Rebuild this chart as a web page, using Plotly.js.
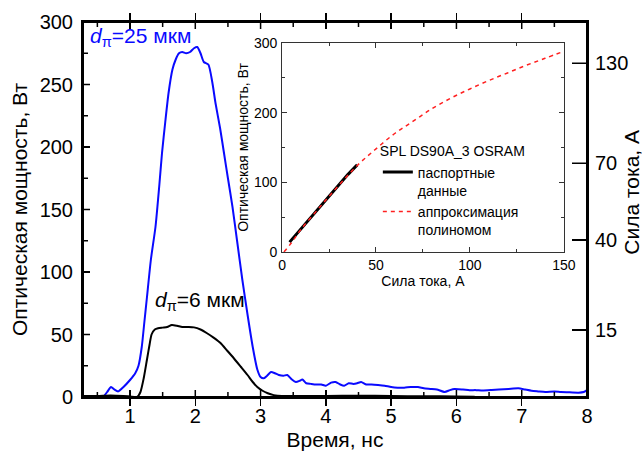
<!DOCTYPE html>
<html>
<head>
<meta charset="utf-8">
<script src="https://cdn.plot.ly/plotly-3.0.1.min.js"></script>
<style>html,body{margin:0;padding:0;background:#fff;}#chart{width:642px;height:455px;}</style>
</head>
<body>
<div id="chart"></div>
<script>
// Main chart: optical power vs time
const timeBlue = [0.59,0.65,0.71,0.76,0.82,0.9,1.0,1.08,1.13,1.18,1.22,1.26,1.32,1.39,1.45,1.49,1.54,1.59,1.65,1.70,1.75,1.80,1.86,1.92,1.98,2.03,2.08,2.13,2.20,2.26,2.31,2.38,2.44,2.50,2.57,2.64,2.72,2.80,2.88,2.95,3.00,3.05,3.10,3.16,3.22,3.28,3.35,3.41,3.48,3.54,3.60,3.64,3.70,3.77,3.85,3.93,4.00,4.08,4.15,4.22,4.28,4.35,4.42,4.48,4.54,4.62,4.70,4.80,4.90,5.0,5.1,5.2,5.3,5.41,5.5,5.6,5.7,5.82,5.9,5.97,6.1,6.2,6.3,6.4,6.54,6.65,6.8,6.95,7.05,7.15,7.25,7.36,7.5,7.6,7.7,7.87,7.95,8.0];
const powerBlue = [0,4,8,6,4.5,8,13.6,19,25,40,60,80,110,136,170,195,220,243,262,270,275,276,275,276,279,280,275,268,266,252,235,215,195,175,152,125,94,66,40,22,16,15,17,20,19,17.6,17,17.6,14,12,13,14,11,10.5,10,10,9,11.5,12,10,9,11,10.5,11,12,10,10,9.6,9,8,7.5,7.5,8,8,7,6.5,6,4,5.5,6.4,6,5.5,5.5,5.2,5.6,6,6.5,7,6,5,4.5,4,4.5,4,3.8,3.5,4,5.6];
const timeBlack = [0.28,0.5,0.7,0.9,1.0,1.11,1.16,1.21,1.26,1.30,1.33,1.38,1.43,1.50,1.57,1.64,1.72,1.80,1.90,1.98,2.08,2.18,2.28,2.39,2.49,2.59,2.70,2.80,2.88,2.95,3.03,3.11,3.20,3.26,3.5,4.0,4.5,5.0,5.5,6.0,6.28];
const powerBlack = [0.8,0.8,1.2,0.8,0.4,0,4,15,30,42,50,54,55,55.5,56,57.6,57,56,56,55.7,54,51,47.5,43,37,31,24,17.6,12,8,5,3,1.5,1,0.8,0.8,1,0.8,0.6,0.5,0.3];

// Right axis: current values placed at the corresponding power level
const currentTickText = ['15','40','70','130'];
const currentTickPower = [53.6,125.6,187,267];

// Inset: power vs current
const insetCurrentData = [4,10,15,20,25,30,35,40];
const insetPowerData = [14,33,49,65,81,96,111,125];
const insetCurrentFit = [1,5,10,20,30,40,50,60,70,80,90,100,110,120,130,140,150];
const insetPowerFit = [0,13,32,64,95,124,148,170,188,206,221,234,246,257,268,278,288];

const labelBlue = '<i>d</i><sub>π</sub>=25 мкм';
const labelBlack = '<i>d</i><sub>π</sub>=6 мкм';
const nameData = 'паспортные<br>данные';
const nameFit = 'аппроксимация<br>полиномом';
const legendTitle = 'SPL DS90A_3 OSRAM';

const FONT = 'Liberation Sans';

// axis ranges and plot-area size (used to build the frame and tick marks of the main panel)
const xRange = [0.28, 8], yRange = [0, 300];
const W = 642, H = 455, M = {l:83, r:55, t:22, b:58};
const xPerPx = (xRange[1]-xRange[0]) / (W - M.l - M.r);
const yPerPx = (yRange[1]-yRange[0]) / (H - M.t - M.b);

const tickX = [], tickY = [];
function seg(x0,y0,x1,y1){ tickX.push(x0,x1,null); tickY.push(y0,y1,null); }
for (let v = 0.5; v < xRange[1]; v += 0.5) {
  const len = (Math.abs(v - Math.round(v)) < 1e-9 ? 7 : 5) * yPerPx;
  seg(v, yRange[0], v, yRange[0] + len);
  seg(v, yRange[1], v, yRange[1] - len);
}
for (let v = 25; v < yRange[1]; v += 25) {
  const len = (v % 50 === 0 ? 7 : 5) * xPerPx;
  seg(xRange[0], v, xRange[0] + len, v);
}
currentTickPower.forEach(function(v){ seg(xRange[1], v, xRange[1] - 15 * xPerPx, v); });

const traces = [
  {x: timeBlue, y: powerBlue, xaxis:'x', yaxis:'y', mode:'lines', line:{color:'#0a0aff', width:2, shape:'spline', smoothing:0.6}, showlegend:false},
  {x: timeBlack, y: powerBlack, xaxis:'x', yaxis:'y', mode:'lines', line:{color:'#000', width:2, shape:'spline', smoothing:0.6}, showlegend:false},
  // frame and tick marks of the main panel
  {x: [xRange[0], xRange[1], xRange[1], xRange[0], xRange[0]], y: [yRange[0], yRange[0], yRange[1], yRange[1], yRange[0]], xaxis:'x', yaxis:'y', mode:'lines', line:{color:'#000', width:2}, cliponaxis:false, showlegend:false, hoverinfo:'skip'},
  {x: tickX, y: tickY, xaxis:'x', yaxis:'y', mode:'lines', line:{color:'#000', width:1.5}, cliponaxis:false, connectgaps:false, showlegend:false, hoverinfo:'skip'},
  {x: [null], y: [null], xaxis:'x', yaxis:'y2', mode:'lines', showlegend:false},
  {x: insetCurrentData, y: insetPowerData, xaxis:'x2', yaxis:'y3', mode:'lines', line:{color:'#000', width:3}, name: nameData, showlegend:true},
  {x: insetCurrentFit, y: insetPowerFit, xaxis:'x2', yaxis:'y3', mode:'lines', line:{color:'#ff2020', width:1.5, dash:'4px,4px', shape:'spline'}, name: nameFit, showlegend:true}
];

const layout = {
  width: W, height: H,
  margin: M,
  paper_bgcolor:'#fff', plot_bgcolor:'#fff',
  font: {family: FONT, color:'#000', size:20},
  xaxis: {
    range: xRange, dtick:1, tick0:0, ticks:'inside', ticklen:7, tickwidth:1.5, tickcolor:'#000',
    showline:true, linewidth:2, linecolor:'#000', mirror:'allticks', showgrid:false, zeroline:false,
    title:{text:'Время, нс', font:{size:21}, standoff:6}
  },
  yaxis: {
    range: yRange, dtick:50, ticks:'inside', ticklen:7, tickwidth:1.5, tickcolor:'#000',
    showline:true, linewidth:2, linecolor:'#000', showgrid:false, zeroline:false, ticklabelstandoff:4,
    title:{text:'Оптическая мощность, Вт', font:{size:21}, standoff:6}
  },
  yaxis2: {
    overlaying:'y', side:'right', anchor:'x', range: yRange, tickmode:'array', tickvals: currentTickPower, ticktext: currentTickText,
    ticks:'inside', ticklen:15, tickwidth:1.5, tickcolor:'#000', showline:true, linewidth:2, linecolor:'#000',
    showgrid:false, zeroline:false, ticklabelstandoff:2
  },
  xaxis2: {
    domain:[0.395, 0.954], anchor:'y3', range:[0,150], dtick:50, ticks:'inside', ticklen:5, tickcolor:'#333',
    minor:{dtick:25, ticks:'inside', ticklen:3, tickcolor:'#333'},
    showline:true, linewidth:1, linecolor:'#333', mirror:'allticks', showgrid:false, zeroline:false,
    tickfont:{size:14}, title:{text:'Сила тока, А', font:{size:14}, standoff:2}
  },
  yaxis3: {
    domain:[0.387, 0.944], anchor:'x2', range:[0,300], dtick:100, ticks:'inside', ticklen:5, tickcolor:'#333',
    minor:{dtick:50, ticks:'inside', ticklen:3, tickcolor:'#333'},
    showline:true, linewidth:1, linecolor:'#333', mirror:'allticks', showgrid:false, zeroline:false,
    tickfont:{size:14}, ticklabelstandoff:1, title:{text:'Оптическая мощность, Вт', font:{size:14}, standoff:2}
  },
  legend: {
    x:0.585, y:0.69, xanchor:'left', yanchor:'top', bgcolor:'rgba(0,0,0,0)', borderwidth:0,
    font:{size:14}, title:{text: legendTitle, font:{size:14}}, valign:'top'
  },
  annotations: [
    {x:0.357, y:288, xref:'x', yref:'y', text: labelBlue, showarrow:false, xanchor:'left', yanchor:'middle', font:{size:21, color:'#0a0aff'}},
    {x:1.357, y:77, xref:'x', yref:'y', text: labelBlack, showarrow:false, xanchor:'left', yanchor:'middle', font:{size:21, color:'#000'}},
    {x:1.089, y:0.547, xref:'paper', yref:'paper', text:'Сила тока, А', textangle:-90, showarrow:false, xanchor:'center', yanchor:'middle', font:{size:21}}
  ]
};

Plotly.newPlot('chart', traces, layout, {staticPlot:true, displayModeBar:false});
</script>
</body>
</html>
